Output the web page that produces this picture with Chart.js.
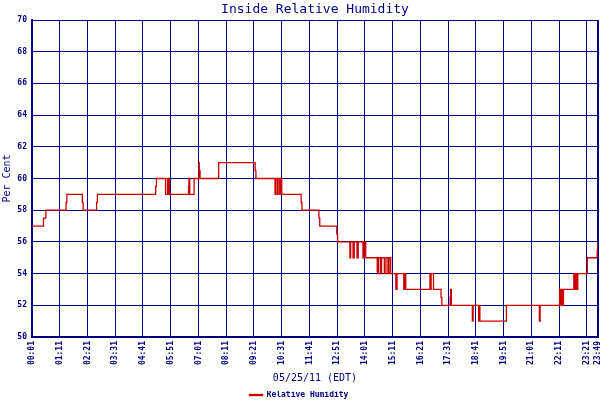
<!DOCTYPE html>
<html>
<head>
<meta charset="utf-8">
<script src="https://cdn.jsdelivr.net/npm/chart.js@4"></script>
<style>
  html, body { margin: 0; padding: 0; background: #fff; }
</style>
</head>
<body>
<canvas id="rh-chart" width="600" height="400"></canvas>
<script>
// readings (time of change, value held until the next one)
const times = [
  '00:01', '00:30', '00:36', '01:27', '01:29', '02:08', '02:10', '02:44', '02:46',
  '05:13', '05:15', '05:38', '05:43', '05:45', '05:46', '05:48',
  '06:36', '06:37', '06:39', '06:50', '07:02', '07:03', '07:05', '07:52',
  '09:24', '09:26', '10:14', '10:16', '10:20', '10:22', '10:26', '10:28', '10:31',
  '11:20', '11:22', '12:05', '12:07', '12:50', '12:52',
  '13:23', '13:25', '13:31', '13:34', '13:41', '13:44', '13:56', '13:59', '14:03',
  '14:32', '14:35', '14:40', '14:43', '14:50', '14:54', '14:59', '15:02', '15:06',
  '15:19', '15:22', '15:39', '15:41', '15:44',
  '16:45', '16:47', '16:48', '16:54', '17:13', '17:15', '17:36', '17:37', '17:39',
  '18:32', '18:34', '18:48', '18:50', '18:51', '19:58',
  '21:21', '21:23', '22:12', '22:15', '22:18', '22:20', '22:22',
  '22:48', '22:51', '22:54', '22:56', '22:58', '23:22', '23:47', '23:49'
];
const humidity = [
  57, 57.5, 58, 58.5, 59, 58.5, 58, 58.5, 59,
  59.5, 60, 59, 60, 59, 60, 59,
  59.5, 60, 59, 60, 61, 60.5, 60, 61,
  60.5, 60, 59, 60, 59, 60, 59, 60, 59,
  58.5, 58, 57.5, 57, 56.5, 56,
  55, 56, 55, 56, 55, 56, 55, 56, 55,
  54, 55, 54, 55, 54, 55, 54, 55, 54,
  53, 54, 53, 54, 53,
  54, 53, 54, 53, 52.5, 52, 52.5, 53, 52,
  51, 52, 51, 52, 51, 52,
  51, 52, 53, 52, 53, 52, 53,
  54, 53, 54, 53, 54, 55, 55.5, 56
];
const xTickLabels = [
  '00:01', '01:11', '02:21', '03:31', '04:41', '05:51', '07:01', '08:11', '09:21',
  '10:31', '11:41', '12:51', '14:01', '15:11', '16:21', '17:31', '18:41', '19:51',
  '21:01', '22:11', '23:21', '23:49'
];
const yTicks = [50, 52, 54, 56, 58, 60, 62, 64, 66, 68, 70];

const navy = '#000080';
const red = '#cc0000';
const mono = 'DejaVu Sans Mono';

const toMinutes = (s) => {
  const [h, m] = s.split(':').map(Number);
  return h * 60 + m;
};
const fmtTime = (v) => {
  const h = Math.floor(v / 60);
  const m = v % 60;
  return `${String(h).padStart(2, '0')}:${String(m).padStart(2, '0')}`;
};

const xTicks = xTickLabels.map(toMinutes);
const xMin = xTicks[0];
const xMax = xTicks[xTicks.length - 1];
const points = times.map((t, i) => ({ x: toMinutes(t), y: humidity[i] }));

const ctx = document.getElementById('rh-chart').getContext('2d');
new Chart(ctx, {
  type: 'line',
  data: {
    datasets: [{
      label: 'Relative Humidity',
      data: points,
      stepped: true,
      borderColor: red,
      backgroundColor: red,
      borderWidth: 1.3,
      pointRadius: 0,
      fill: false
    }]
  },
  options: {
    responsive: false,
    animation: false,
    layout: { padding: { top: 0, left: 0, right: 2, bottom: -9 } },
    plugins: {
      title: {
        display: true,
        text: 'Inside Relative Humidity',
        fullSize: false,
        color: navy,
        font: { family: mono, size: 13, weight: 'normal' },
        padding: { top: 2, bottom: 2.4 }
      },
      legend: {
        position: 'bottom',
        labels: {
          boxWidth: 13,
          boxHeight: 1,
          padding: 0,
          color: navy,
          font: { family: mono, size: 8, weight: 'bold' }
        }
      },
      tooltip: { enabled: false }
    },
    scales: {
      x: {
        type: 'linear',
        min: xMin,
        max: xMax,
        afterBuildTicks: (scale) => {
          scale.ticks = xTicks.map((v) => ({ value: v }));
        },
        afterFit: (scale) => {
          // keep the plot edge at the canvas edge, labels may overhang
          scale.height = 54;
          scale.paddingLeft = 0;
          scale.paddingRight = 0;
        },
        ticks: {
          autoSkip: false,
          minRotation: 90,
          maxRotation: 90,
          padding: 4,
          color: navy,
          font: { family: mono, size: 8, weight: 'bold' },
          callback: (v) => fmtTime(v)
        },
        grid: {
          color: navy,
          lineWidth: (c) => (c.tick && c.tick.value === xMax ? 2 : 1),
          drawTicks: false
        },
        border: { color: navy, width: 2 },
        title: {
          display: true,
          text: '05/25/11 (EDT)',
          color: navy,
          font: { family: mono, size: 10, weight: 'normal' },
          padding: { top: 0, bottom: 7 }
        }
      },
      y: {
        min: 50,
        max: 70,
        afterBuildTicks: (scale) => {
          scale.ticks = yTicks.map((v) => ({ value: v }));
        },
        afterFit: (scale) => {
          scale.width = 32;
          scale.paddingTop = 0;
          scale.paddingBottom = 0;
        },
        ticks: {
          padding: 5,
          color: navy,
          font: { family: mono, size: 8, weight: 'bold' }
        },
        grid: { color: navy, lineWidth: 1, drawTicks: false },
        border: { color: navy, width: 2 },
        title: {
          display: true,
          text: 'Per Cent',
          color: navy,
          font: { family: mono, size: 10, weight: 'normal' },
          padding: { top: 1.5, bottom: 0 }
        }
      }
    }
  }
});
</script>
</body>
</html>
